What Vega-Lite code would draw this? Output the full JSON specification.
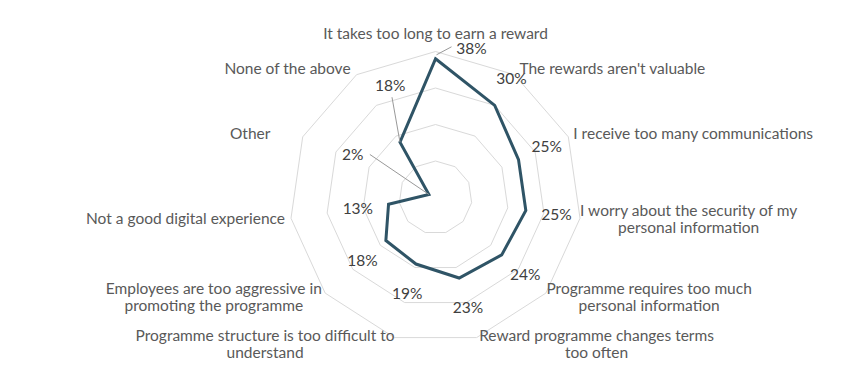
{
  "$schema": "https://vega.github.io/schema/vega-lite/v6.json",
  "width": 865,
  "height": 370,
  "padding": 0,
  "autosize": {"type": "none"},
  "background": "white",
  "config": {"view": {"stroke": null}, "text": {"font": "Lato"}},
  "data": {
    "values": [
      {"idx": 0, "label": "It takes too long to earn a reward", "value": 38},
      {"idx": 1, "label": "The rewards aren't valuable", "value": 30},
      {"idx": 2, "label": "I receive too many communications", "value": 25},
      {"idx": 3, "label": "I worry about the security of my\npersonal information", "value": 25},
      {"idx": 4, "label": "Programme requires too much\npersonal information", "value": 24},
      {"idx": 5, "label": "Reward programme changes terms\ntoo often", "value": 23},
      {"idx": 6, "label": "Programme structure is too difficult to\nunderstand", "value": 19},
      {"idx": 7, "label": "Employees are too aggressive in\npromoting the programme", "value": 18},
      {"idx": 8, "label": "Not a good digital experience", "value": 13},
      {"idx": 9, "label": "Other", "value": 2},
      {"idx": 10, "label": "None of the above", "value": 18}
    ]
  },
  "transform": [
    {"calculate": "datum.idx * 2 * PI / 11", "as": "ang"},
    {"calculate": "sin(datum.ang)", "as": "sx"},
    {"calculate": "cos(datum.ang)", "as": "cy"},
    {"calculate": "datum.value + '%'", "as": "pct"},
    {"calculate": "split(datum.label, '\\n')", "as": "lines"},
    {"calculate": "length(datum.lines)", "as": "nl"}
  ],
  "encoding": {
    "x": {"field": "px", "type": "quantitative", "scale": {"domain": [-119.32, 117.67], "nice": false, "zero": false}, "axis": null},
    "y": {"field": "py", "type": "quantitative", "scale": {"domain": [-47.26, 54.11], "nice": false, "zero": false}, "axis": null}
  },
  "layer": [
    {
      "transform": [
        {"calculate": "[10, 20, 30, 40]", "as": "ring"},
        {"flatten": ["ring"]},
        {"calculate": "datum.ring * datum.sx", "as": "px"},
        {"calculate": "datum.ring * datum.cy", "as": "py"}
      ],
      "mark": {"type": "line", "interpolate": "linear-closed", "color": "#d9d9d9", "strokeWidth": 1},
      "encoding": {
        "detail": {"field": "ring", "type": "nominal"},
        "order": {"field": "idx", "type": "quantitative"}
      }
    },
    {
      "transform": [
        {"calculate": "datum.value * datum.sx", "as": "px"},
        {"calculate": "datum.value * datum.cy", "as": "py"}
      ],
      "mark": {"type": "line", "interpolate": "linear-closed", "color": "#2F5466", "strokeWidth": 3, "strokeJoin": "miter"},
      "encoding": {"order": {"field": "idx", "type": "quantitative"}}
    },
    {
      "transform": [
        {"filter": "datum.idx == 0"},
        {"calculate": "datum.value * datum.sx", "as": "px"},
        {"calculate": "datum.value * datum.cy", "as": "py"}
      ],
      "mark": {"type": "rule", "color": "#999999", "strokeWidth": 1, "xOffset": 1, "yOffset": -4, "x2Offset": 16, "y2Offset": -12},
      "encoding": {"x2": {"field": "px"}, "y2": {"field": "py"}}
    },
    {
      "transform": [
        {"filter": "datum.idx == 9"},
        {"calculate": "datum.value * datum.sx", "as": "px"},
        {"calculate": "datum.value * datum.cy", "as": "py"}
      ],
      "mark": {"type": "rule", "color": "#999999", "strokeWidth": 1, "x2Offset": -59, "y2Offset": -40},
      "encoding": {"x2": {"field": "px"}, "y2": {"field": "py"}}
    },
    {
      "transform": [
        {"filter": "datum.idx == 10"},
        {"calculate": "datum.value * datum.sx", "as": "px"},
        {"calculate": "datum.value * datum.cy", "as": "py"}
      ],
      "mark": {"type": "rule", "color": "#999999", "strokeWidth": 1, "x2Offset": -8, "y2Offset": -45},
      "encoding": {"x2": {"field": "px"}, "y2": {"field": "py"}}
    },
    {
      "transform": [
        {"filter": "datum.idx != 0 && datum.idx != 9 && datum.idx != 10"},
        {"calculate": "(datum.value + 8.5) * datum.sx", "as": "px"},
        {"calculate": "(datum.value + 8.5) * datum.cy", "as": "py"}
      ],
      "mark": {"type": "text", "align": "center", "baseline": "middle", "fontSize": 15.5, "color": "#404040"},
      "encoding": {"text": {"field": "pct", "type": "nominal"}}
    },
    {
      "transform": [
        {"filter": "datum.idx == 0"},
        {"calculate": "(datum.value + 8.5) * datum.sx", "as": "px"},
        {"calculate": "(datum.value + 8.5) * datum.cy", "as": "py"}
      ],
      "mark": {"type": "text", "align": "center", "baseline": "middle", "fontSize": 15.5, "color": "#404040", "dx": 36, "dy": 21},
      "encoding": {"text": {"field": "pct", "type": "nominal"}}
    },
    {
      "transform": [
        {"filter": "datum.idx == 9"},
        {"calculate": "(datum.value + 8.5) * datum.sx", "as": "px"},
        {"calculate": "(datum.value + 8.5) * datum.cy", "as": "py"}
      ],
      "mark": {"type": "text", "align": "center", "baseline": "middle", "fontSize": 15.5, "color": "#404040", "dx": -48, "dy": -27},
      "encoding": {"text": {"field": "pct", "type": "nominal"}}
    },
    {
      "transform": [
        {"filter": "datum.idx == 10"},
        {"calculate": "(datum.value + 8.5) * datum.sx", "as": "px"},
        {"calculate": "(datum.value + 8.5) * datum.cy", "as": "py"}
      ],
      "mark": {"type": "text", "align": "center", "baseline": "middle", "fontSize": 15.5, "color": "#404040", "dx": 7, "dy": -30},
      "encoding": {"text": {"field": "pct", "type": "nominal"}}
    },
    {
      "transform": [
        {"filter": "datum.idx == 0"},
        {"calculate": "0", "as": "px"},
        {"calculate": "42", "as": "py"}
      ],
      "mark": {"type": "text", "align": "center", "baseline": "middle", "fontSize": 15.5, "color": "#595959", "dy": -10},
      "encoding": {"text": {"field": "label", "type": "nominal"}}
    },
    {
      "transform": [
        {"filter": "datum.nl == 1 && datum.sx > 0.05"},
        {"calculate": "40 * datum.sx", "as": "px"},
        {"calculate": "42 * datum.cy", "as": "py"}
      ],
      "mark": {"type": "text", "align": "left", "baseline": "middle", "fontSize": 15.5, "color": "#595959", "dx": 5},
      "encoding": {"text": {"field": "label", "type": "nominal"}}
    },
    {
      "transform": [
        {"filter": "datum.nl == 1 && datum.sx < -0.05 && length(datum.label) >= 14"},
        {"calculate": "40 * datum.sx", "as": "px"},
        {"calculate": "42 * datum.cy", "as": "py"}
      ],
      "mark": {"type": "text", "align": "right", "baseline": "middle", "fontSize": 15.5, "color": "#595959", "dx": -6},
      "encoding": {"text": {"field": "label", "type": "nominal"}}
    },
    {
      "transform": [
        {"filter": "datum.nl > 1 || length(datum.label) < 14"},
        {"calculate": "datum.lines[0]", "as": "l0"},
        {"calculate": "datum.nl > 1 ? datum.lines[1] : ''", "as": "l1"},
        {"calculate": "8.2*length(datum.l0) - 4.6*(length(datum.l0)-length(replace(datum.l0, regexp('[Iilj]','g'), ''))) - 3.0*(length(datum.l0)-length(replace(datum.l0, regexp('[frt]','g'), ''))) - 5.2*(length(datum.l0)-length(replace(datum.l0, regexp(' ','g'), ''))) + 4.1*(length(datum.l0)-length(replace(datum.l0, regexp('[mwMW]','g'), '')))", "as": "w0"},
        {"calculate": "8.2*length(datum.l1) - 4.6*(length(datum.l1)-length(replace(datum.l1, regexp('[Iilj]','g'), ''))) - 3.0*(length(datum.l1)-length(replace(datum.l1, regexp('[frt]','g'), ''))) - 5.2*(length(datum.l1)-length(replace(datum.l1, regexp(' ','g'), ''))) + 4.1*(length(datum.l1)-length(replace(datum.l1, regexp('[mwMW]','g'), '')))", "as": "w1"},
        {"calculate": "max(datum.w0, datum.w1, 97) / 2 / 3.65", "as": "hw"},
        {"calculate": "datum.sx > 0 ? 1 : -1", "as": "side"},
        {"calculate": "40 * datum.sx + datum.side * (1.1 + datum.hw)", "as": "px"},
        {"calculate": "42 * datum.cy + (datum.nl - 1) * 8.5 / 3.65", "as": "py"}
      ],
      "mark": {"type": "text", "align": "center", "baseline": "middle", "fontSize": 15.5, "color": "#595959", "lineBreak": "\n", "lineHeight": 17},
      "encoding": {"text": {"field": "label", "type": "nominal"}}
    }
  ]
}
